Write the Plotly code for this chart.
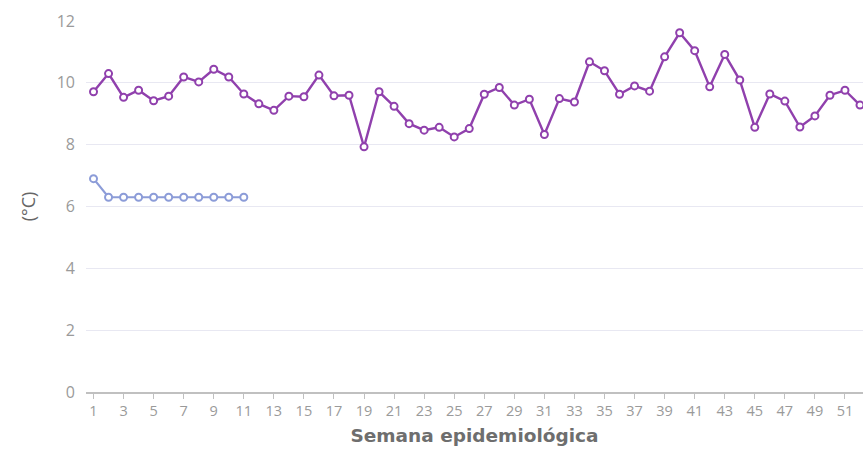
import plotly.graph_objects as go

# Epidemiological weeks and weekly temperature series (°C)
weeks = list(range(1, 53))
temp_prev = [9.71, 10.30, 9.53, 9.76, 9.42, 9.57, 10.19, 10.03, 10.44, 10.19,
             9.64, 9.32, 9.11, 9.57, 9.55, 10.25, 9.58, 9.60, 7.93, 9.71,
             9.24, 8.68, 8.47, 8.56, 8.25, 8.52, 9.63, 9.85, 9.28, 9.47,
             8.33, 9.49, 9.38, 10.68, 10.39, 9.63, 9.90, 9.73, 10.84, 11.62,
             11.04, 9.87, 10.92, 10.09, 8.56, 9.64, 9.41, 8.57, 8.93, 9.60,
             9.76, 9.28]
weeks_curr = list(range(1, 12))
temp_curr = [6.90, 6.30, 6.30, 6.30, 6.30, 6.30, 6.30, 6.30, 6.30, 6.30, 6.30]

y_ticks = [0, 2, 4, 6, 8, 10, 12]
x_ticks = list(range(1, 53, 2))

purple = "#9040ad"
blue = "#8c9cd8"

fig = go.Figure()
fig.add_trace(go.Scatter(
    x=weeks, y=temp_prev, mode="lines+markers",
    line=dict(color=purple, width=2.4),
    marker=dict(symbol="circle", size=7, color="white",
                line=dict(color=purple, width=2)),
    cliponaxis=False, showlegend=False,
))
fig.add_trace(go.Scatter(
    x=weeks_curr, y=temp_curr, mode="lines+markers",
    line=dict(color=blue, width=2.2),
    marker=dict(symbol="circle", size=7, color="white",
                line=dict(color=blue, width=2)),
    cliponaxis=False, showlegend=False,
))

fig.update_layout(
    width=863, height=451,
    margin=dict(l=86, r=0, t=21, b=59),
    paper_bgcolor="white", plot_bgcolor="white",
    font=dict(family="Open Sans, sans-serif", color="#666666"),
    xaxis=dict(
        range=[0.5, 52.2],
        tickmode="array", tickvals=x_ticks, ticktext=[str(v) for v in x_ticks],
        tickfont=dict(size=14.5, color="#9a9a9a"),
        ticks="outside", ticklen=5, tickcolor="#c0c0c0", tickwidth=1.2,
        showline=True, linecolor="#c0c0c0", linewidth=1.5,
        showgrid=False, zeroline=False,
        title=dict(text="<b>Semana epidemiológica</b>",
                   font=dict(family="DejaVu Sans, sans-serif", size=18.5,
                             color="#6e6e6e"), standoff=10),
    ),
    yaxis=dict(
        range=[0, 12],
        tickmode="array", tickvals=y_ticks,
        tickfont=dict(size=16, color="#9a9a9a"),
        ticklabelstandoff=10,
        showgrid=True, gridcolor="#e8e8f2", gridwidth=1.2,
        zeroline=False, showline=False,
        title=dict(text="(°C)", font=dict(size=18, color="#666666"), standoff=16),
    ),
)

fig.write_html("out.html")
